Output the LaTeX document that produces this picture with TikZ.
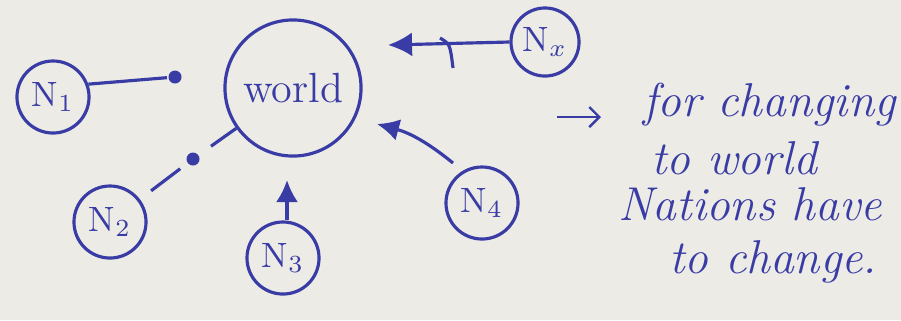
\documentclass[tikz,border=0pt]{standalone}
\usetikzlibrary{arrows.meta}
\definecolor{ink}{RGB}{58,60,165}
\definecolor{paper}{RGB}{236,235,230}
\begin{document}
\begin{tikzpicture}[x=0.01cm, y=-0.01cm, line width=0.9pt,
    bubble/.style={draw=ink, circle, minimum size=0.72cm, inner sep=0pt, text=ink},
    dot/.style={circle, fill=ink, inner sep=0pt, minimum size=0.13cm},
    note/.style={anchor=west, text=ink, font=\fontsize{13.5}{16}\selectfont\itshape}]
    \fill [paper] (0, 0) rectangle (901, 320);
    \useasboundingbox (0, 0) rectangle (901, 320);
    % the nations round the world
    \node [bubble, minimum size=1.36cm, font=\large] (world) at (293, 88) {world};
    \node [bubble] (n1) at (53, 97) {N$_1$};
    \node [bubble] (n2) at (110, 222) {N$_2$};
    \node [bubble] (n3) at (283, 258) {N$_3$};
    \node [bubble] (n4) at (482, 203) {N$_4$};
    \node [bubble, minimum size=0.68cm] (nx) at (545, 42) {N$_x$};
    \node [dot] (d1) at (175, 77) {};
    \node [dot] (d2) at (193, 159) {};
    \coordinate (t3) at (287, 180);
    \coordinate (tx) at (388, 45);
    \coordinate (s4) at (453, 163);
    \coordinate (t4) at (377, 124);
    \draw [ink] (n1.20) -- (d1);
    \draw [ink, shorten >=0.14cm] (world) -- (d2);
    \draw [ink, shorten <=0.08cm, shorten >=0.14cm] (d2) -- (n2);
    \draw [ink, -{Latex[length=0.22cm, width=0.22cm]}] (n3.north -| t3) -- (t3);
    \draw [ink, -{Latex[length=0.24cm, width=0.24cm]}] (nx.west) -- (tx);
    \draw [ink, -{Latex[length=0.22cm, width=0.22cm]}] (s4) to [bend right=12] (t4);
    % pen mark on the shaft
    \draw [ink] (440, 38) .. controls (450, 44) .. (453, 68);
    % the note
    \coordinate (a1) at (557, 117);
    \coordinate (a2) at (601, 117);
    \draw [ink, line width=0.7pt, -{Straight Barb[length=0.1cm]}] (a1) -- (a2);
    \node [note] (l1) at (630, 105) {for changing};
    \node [note] (l2) at (638, 158) {to world};
    \node [note] (l3) at (605, 204) {Nations have};
    \node [note] (l4) at (656, 262) {to change.};
\end{tikzpicture}
\end{document}
